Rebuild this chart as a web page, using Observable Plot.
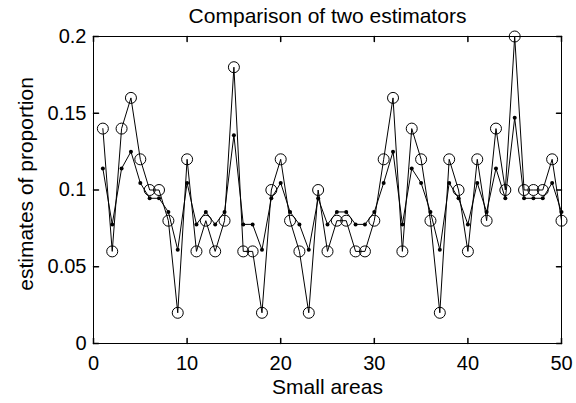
<!DOCTYPE html>
<html>
<head>
<meta charset="utf-8">
<script src="https://cdn.jsdelivr.net/npm/d3@7"></script>
<script src="https://cdn.jsdelivr.net/npm/@observablehq/plot@0.6"></script>
<style>
  html, body { margin: 0; padding: 0; background: #fff; }
  svg { display: block; }
</style>
</head>
<body>
<div id="chart"></div>
<script>
const areas = [1,2,3,4,5,6,7,8,9,10,11,12,13,14,15,16,17,18,19,20,21,22,23,24,25,26,27,28,29,30,31,32,33,34,35,36,37,38,39,40,41,42,43,44,45,46,47,48,49,50];
const directEst = [0.14,0.06,0.14,0.16,0.12,0.10,0.10,0.08,0.02,0.12,
                   0.06,0.08,0.06,0.08,0.18,0.06,0.06,0.02,0.10,0.12,
                   0.08,0.06,0.02,0.10,0.06,0.08,0.08,0.06,0.06,0.08,
                   0.12,0.16,0.06,0.14,0.12,0.08,0.02,0.12,0.10,0.06,
                   0.12,0.08,0.14,0.10,0.20,0.10,0.10,0.10,0.12,0.08];
const smoothEst = [0.114,0.0776,0.114,0.125,0.1046,0.0946,0.0946,0.0857,0.061,0.1046,
                   0.0776,0.0857,0.0776,0.0857,0.1357,0.0776,0.0776,0.061,0.0946,0.1046,
                   0.0857,0.0776,0.061,0.0946,0.0776,0.0857,0.0857,0.0776,0.0776,0.0857,
                   0.1046,0.125,0.0776,0.114,0.1046,0.0857,0.061,0.1046,0.0946,0.0776,
                   0.1046,0.0857,0.114,0.0946,0.147,0.0946,0.0946,0.0946,0.1046,0.0857];
const xTicks = [0,10,20,30,40,50];
const yTicks = [0,0.05,0.1,0.15,0.2];
const titleText = "Comparison of two estimators";
const xLabel = "Small areas";
const yLabel = "estimates of proportion";

const direct = areas.map((a, i) => ({area: a, value: directEst[i]}));
const smooth = areas.map((a, i) => ({area: a, value: smoothEst[i]}));

const font = "'Liberation Sans', Arial, sans-serif";
const lineShape = {draw(context, l) { context.moveTo(0, 0); context.lineTo(0, -l); }};
const tickLen = 5;

const chart = Plot.plot({
  width: 576,
  height: 403,
  marginLeft: 93,
  marginRight: 15,
  marginTop: 36,
  marginBottom: 60,
  style: {fontFamily: font, fontSize: "20px", background: "#fff", color: "#000"},
  x: {domain: [0, 50]},
  y: {domain: [0, 0.2]},
  marks: [
    Plot.frame({stroke: "#000", strokeWidth: 1}),
    Plot.axisX(xTicks, {anchor: "bottom", tickSize: 0, tickPadding: 12, label: null, fontSize: 20, tickFormat: d => `${d}`}),
    Plot.axisY(yTicks, {anchor: "left", tickSize: 0, tickPadding: 7, label: null, fontSize: 20, tickFormat: d => `${d}`}),
    Plot.vector(xTicks, {x: d => d, frameAnchor: "bottom", rotate: 0, length: tickLen, anchor: "start", shape: lineShape, stroke: "#000"}),
    Plot.vector(xTicks, {x: d => d, frameAnchor: "top", rotate: 180, length: tickLen, anchor: "start", shape: lineShape, stroke: "#000"}),
    Plot.vector(yTicks, {y: d => d, frameAnchor: "left", rotate: 90, length: tickLen, anchor: "start", shape: lineShape, stroke: "#000"}),
    Plot.vector(yTicks, {y: d => d, frameAnchor: "right", rotate: -90, length: tickLen, anchor: "start", shape: lineShape, stroke: "#000"}),
    Plot.line(direct, {x: "area", y: "value", stroke: "#000", strokeWidth: 1}),
    Plot.dot(direct, {x: "area", y: "value", r: 5.5, stroke: "#000", fill: "none", strokeWidth: 1}),
    Plot.line(smooth, {x: "area", y: "value", stroke: "#000", strokeWidth: 1}),
    Plot.dot(smooth, {x: "area", y: "value", r: 2, fill: "#000", stroke: "none"}),
    Plot.text([titleText], {frameAnchor: "top", textAnchor: "middle", dy: -20, lineAnchor: "middle", fontSize: 21, fill: "#000"}),
    Plot.text([xLabel], {frameAnchor: "bottom", textAnchor: "middle", dy: 43.5, lineAnchor: "middle", fontSize: 21, fill: "#000"}),
    Plot.text([yLabel], {frameAnchor: "left", textAnchor: "middle", dx: -67, dy: -6, rotate: -90, lineAnchor: "middle", fontSize: 21, fill: "#000"})
  ]
});
document.getElementById("chart").appendChild(chart);
</script>
</body>
</html>
